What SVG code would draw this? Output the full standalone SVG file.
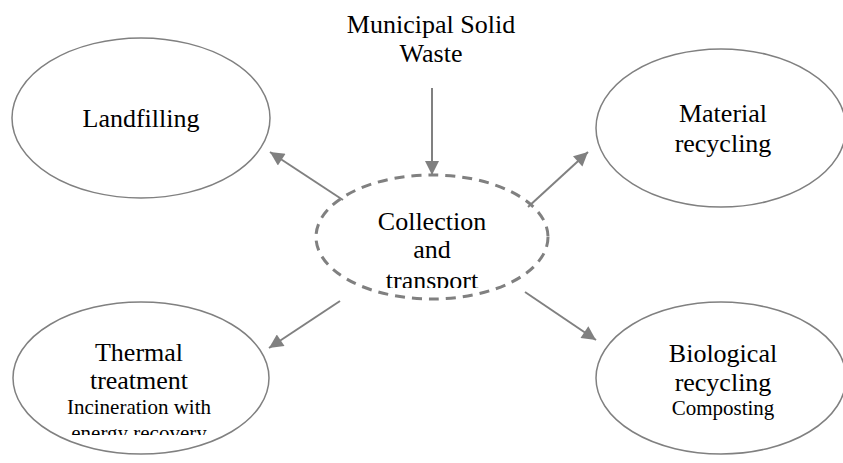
<svg xmlns="http://www.w3.org/2000/svg" width="843" height="463" viewBox="0 0 843 463">
<style>
.node{fill:#ffffff;stroke:#808080;stroke-width:1.5}
.dash{fill:#ffffff;stroke:#808080;stroke-width:3;stroke-dasharray:10 7}
.t{font-family:"Liberation Serif","Times New Roman",serif;font-size:26px;fill:#000;text-anchor:middle}
.s{font-family:"Liberation Serif","Times New Roman",serif;font-size:21px;fill:#000;text-anchor:middle}
.c{stroke:#808080;stroke-width:2;fill:none;marker-end:url(#ah)}
</style>
<defs>
<marker id="ah" viewBox="0 0 10 10" refX="10" refY="5" markerWidth="8" markerHeight="7" markerUnits="strokeWidth" orient="auto">
<path d="M0,0 L10,5 L0,10 z" fill="#808080"/>
</marker>
<clipPath id="clipC"><rect x="300" y="160" width="260" height="128"/></clipPath>
<clipPath id="clipT"><rect x="0" y="300" width="300" height="135"/></clipPath>
</defs>
<g id="msw">
<text class="t" x="431" y="33">Municipal Solid</text>
<text class="t" x="431" y="62">Waste</text>
</g>
<g id="landfilling">
<ellipse class="node" cx="141" cy="118" rx="129" ry="80"/>
<text class="t" x="141" y="127">Landfilling</text>
</g>
<g id="material">
<ellipse class="node" cx="721" cy="128" rx="125" ry="79"/>
<text class="t" x="723" y="122">Material</text>
<text class="t" x="723" y="152">recycling</text>
</g>
<g id="thermal">
<ellipse class="node" cx="141" cy="378" rx="128" ry="76"/>
<text class="t" x="139" y="361">Thermal</text>
<text class="t" x="139" y="389">treatment</text>
<text class="s" x="139" y="414">Incineration with</text>
<text class="s" x="139" y="440" clip-path="url(#clipT)">energy recovery</text>
</g>
<g id="biological">
<ellipse class="node" cx="721" cy="378" rx="125" ry="76"/>
<text class="t" x="723" y="362">Biological</text>
<text class="t" x="723" y="391">recycling</text>
<text class="s" x="723" y="415">Composting</text>
</g>
<g id="collection">
<ellipse class="dash" cx="432" cy="237" rx="116" ry="62"/>
<text class="t" x="432" y="230">Collection</text>
<text class="t" x="432" y="258">and</text>
<text class="t" x="432" y="289" clip-path="url(#clipC)">transport</text>
</g>
<g id="connectors">
<line class="c" x1="432" y1="88" x2="432" y2="175"/>
<line class="c" x1="343" y1="200" x2="270" y2="152"/>
<line class="c" x1="528" y1="207" x2="588" y2="152"/>
<line class="c" x1="340" y1="301" x2="269" y2="348"/>
<line class="c" x1="525" y1="292" x2="596" y2="340"/>
</g>
</svg>
